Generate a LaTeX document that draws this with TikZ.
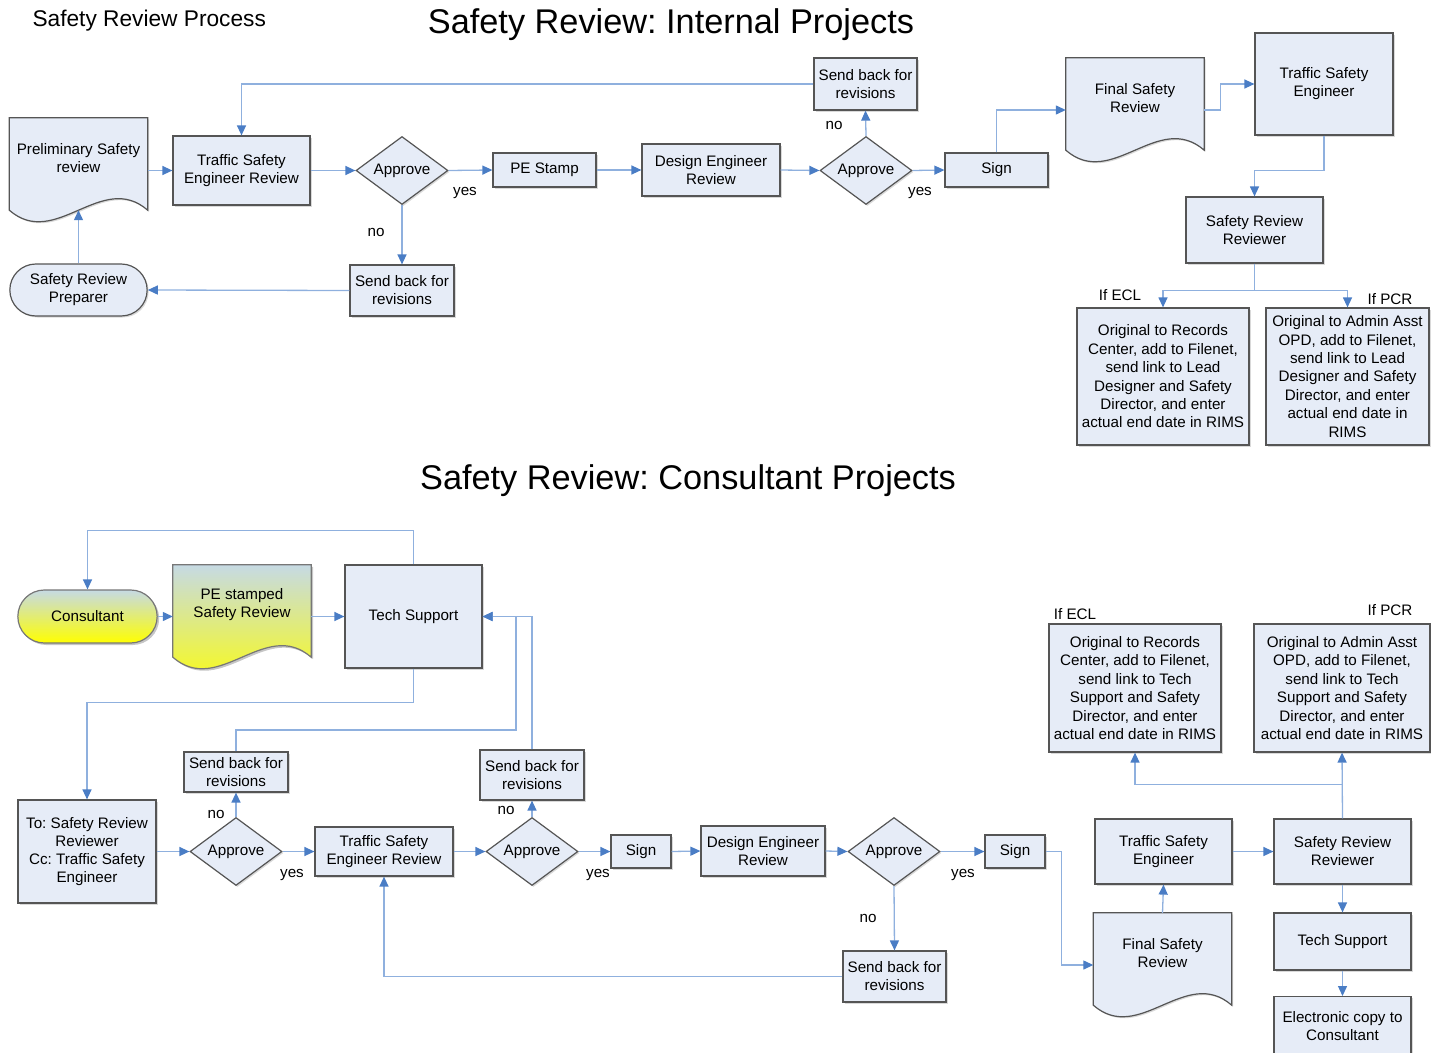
\documentclass[tikz,border=0pt]{standalone}
\usepackage{fontspec}
\setmainfont{Liberation Sans}
\usetikzlibrary{shapes.geometric}
\usetikzlibrary{shapes.misc}
\usetikzlibrary{arrows.meta}
\usetikzlibrary{shadows}
\usetikzlibrary{backgrounds}

\definecolor{boxfill}{HTML}{E6ECF7}
\definecolor{boxline}{HTML}{555555}
\definecolor{flowline}{HTML}{8FB0DE}
\definecolor{flowhead}{HTML}{4A7DC5}
\definecolor{padtop}{HTML}{C6DAE4}
\definecolor{padyellow}{HTML}{FFFF00}

\newcommand{\boxfont}{\fontsize{15.2}{18}\selectfont}
\newcommand{\notefont}{\fontsize{15.2}{18.4}\selectfont}
%document shape behind a docu node
\newcommand{\docshape}[2]{%
    \path[#2] (#1.north west) -- (#1.north east) -- ([yshift=-12pt]#1.south east)
        .. controls +(-46pt,40pt) and +(46pt,-40pt) .. ([yshift=-12pt]#1.south west) -- cycle;}

\tikzset{
    boxshadow/.style={drop shadow={shadow xshift=1.5pt, shadow yshift=-1.5pt, opacity=0.3}},
    box/.style={draw=boxline, fill=boxfill, line width=1.2pt, align=center, font=\boxfont, inner sep=2pt, boxshadow},
    decide/.style={diamond, aspect=1.35, draw=boxline, fill=boxfill, line width=1.2pt, font=\boxfont, inner sep=0pt, minimum width=92pt, minimum height=68pt, boxshadow},
    pill/.style={rounded rectangle, draw=boxline, fill=boxfill, line width=1.2pt, align=center, font=\boxfont, minimum width=144pt, minimum height=52pt, boxshadow},
    docu/.style={align=center, font=\boxfont, minimum width=138pt, minimum height=80pt, inner sep=0pt},
    docfill/.style={draw=boxline, fill=boxfill, line width=1.2pt, boxshadow},
    padfill/.style={draw=boxline!80, top color=padtop, bottom color=padyellow, line width=1.2pt, drop shadow={shadow xshift=2pt, shadow yshift=-2pt, opacity=0.45}},
    lbl/.style={font=\boxfont},
    flow/.style={draw=flowline, line width=1.3pt, -{Triangle[length=10pt,width=9pt,color=flowhead]}},
    title/.style={font=\fontsize{34.3}{40}\selectfont},
}

\begin{document}
\frenchspacing
\begin{tikzpicture}[x=1pt, y=-1pt]
    \useasboundingbox (0,0) rectangle (1431,1052);
    %titles
    \node[anchor=west, font=\fontsize{22.7}{26}\selectfont] (head) at (29,21) {Safety Review Process};
    \node[title] (titleA) at (671,25) {Safety Review: Internal Projects};
    \node[title] (titleB) at (688,481) {Safety Review: Consultant Projects};

    %internal projects, main row
    \node[docu] (prelim) at (78.5,158) {Preliminary Safety\\review};
    \node[box, minimum width=137pt, minimum height=69pt] (tse1) at (241.5,170.5) {Traffic Safety\\Engineer Review};
    \node[decide] (appr1) at (402,170.5) {Approve};
    \node[box, minimum width=103pt, minimum height=34pt] (pe) at (544.5,170) {PE Stamp};
    \node[box, minimum width=138pt, minimum height=52pt] (dsgn) at (711,170) {Design Engineer\\Review};
    \node[decide] (appr2) at (866,170.5) {Approve};
    \node[box, minimum width=103pt, minimum height=34pt] (sign1) at (996.5,170) {Sign};
    \node[box, minimum width=104pt, minimum height=51pt] (sendA) at (402,290.5) {Send back for\\revisions};
    \node[box, minimum width=103pt, minimum height=52pt] (sendB) at (865.5,84) {Send back for\\revisions};
    \node[pill] (prep) at (78.5,290) {Safety Review\\Preparer};
    %internal projects, sign off
    \node[docu] (final) at (1135,98) {Final Safety\\Review};
    \node[box, minimum width=138pt, minimum height=102pt] (tse2) at (1324,84) {Traffic Safety\\Engineer};
    \node[box, minimum width=137pt, minimum height=66pt] (srr) at (1254.5,230) {Safety Review\\Reviewer};
    \node[box, minimum width=172pt, minimum height=137pt, font=\notefont] (ecl1) at (1163,376.5)
        {Original to Records\\Center, add to Filenet,\\send link to Lead\\Designer and Safety\\Director, and enter\\actual end date in RIMS};
    \node[box, minimum width=163pt, minimum height=137pt, font=\notefont] (pcr1) at (1347.5,376.5)
        {Original to Admin Asst\\OPD, add to Filenet,\\send link to Lead\\Designer and Safety\\Director, and enter\\actual end date in\\RIMS};

    %consultant projects, intake
    \node[rounded rectangle, padfill, font=\boxfont, minimum width=146pt, minimum height=53pt] (cons) at (87.5,616.5) {Consultant};
    \node[docu] (pes) at (242,605) {PE stamped\\Safety Review};
    \node[box, minimum width=137pt, minimum height=103pt] (techA) at (413.5,616.5) {Tech Support};
    %consultant projects, main row
    \node[box, minimum width=138pt, minimum height=103pt] (toBox) at (87,851.5) {To: Safety Review\\Reviewer\\Cc: Traffic Safety\\Engineer};
    \node[decide] (appr3) at (236,851.5) {Approve};
    \node[box, minimum width=138pt, minimum height=49pt] (tse3) at (384,851.5) {Traffic Safety\\Engineer Review};
    \node[decide] (appr4) at (532,851.5) {Approve};
    \node[box, minimum width=60pt, minimum height=33pt] (sign2) at (641,851.5) {Sign};
    \node[box, minimum width=124pt, minimum height=50pt] (dsgn2) at (763,851) {Design Engineer\\Review};
    \node[decide] (appr5) at (894,851.5) {Approve};
    \node[box, minimum width=60pt, minimum height=33pt] (sign3) at (1015,851.5) {Sign};
    \node[box, minimum width=104pt, minimum height=40pt] (sendC) at (236,772) {Send back for\\revisions};
    \node[box, minimum width=104pt, minimum height=50pt] (sendD) at (532,775) {Send back for\\revisions};
    \node[box, minimum width=103pt, minimum height=51pt] (sendE) at (894.5,976.5) {Send back for\\revisions};
    %consultant projects, sign off
    \node[docu] (final2) at (1162.5,953) {Final Safety\\Review};
    \node[box, minimum width=137pt, minimum height=65pt] (tse4) at (1163.5,851.5) {Traffic Safety\\Engineer};
    \node[box, minimum width=137pt, minimum height=65pt] (srr2) at (1342.5,851.5) {Safety Review\\Reviewer};
    \node[box, minimum width=137pt, minimum height=57pt] (tech2) at (1342.5,941.5) {Tech Support};
    \node[box, minimum width=137pt, minimum height=70pt, anchor=north] (elec) at (1342.5,996) {\\[-24pt]Electronic copy to\\Consultant};
    \node[box, minimum width=172pt, minimum height=128pt, font=\notefont] (ecl2) at (1135,688)
        {Original to Records\\Center, add to Filenet,\\send link to Tech\\Support and Safety\\Director, and enter\\actual end date in RIMS};
    \node[box, minimum width=176pt, minimum height=128pt, font=\notefont] (pcr2) at (1342,688)
        {Original to Admin Asst\\OPD, add to Filenet,\\send link to Tech\\Support and Safety\\Director, and enter\\actual end date in RIMS};

    %document shapes
    \begin{scope}[on background layer]
        \docshape{prelim}{docfill}
        \docshape{final}{docfill}
        \docshape{final2}{docfill}
        \docshape{pes}{padfill}
    \end{scope}

    %yes / no labels
    \node[lbl] (y1) at (465,193) {yes};
    \node[lbl] (n1) at (376,232) {no};
    \node[lbl] (n2) at (834,125) {no};
    \node[lbl] (y2) at (920,193) {yes};
    \node[lbl] (ifA) at (1120,295) {If ECL};
    \node[lbl] (ifB) at (1390,299) {If PCR};
    \node[lbl] (n3) at (216,814) {no};
    \node[lbl] (y3) at (292,875) {yes};
    \node[lbl] (n4) at (506,810) {no};
    \node[lbl] (y4) at (598,875) {yes};
    \node[lbl] (n5) at (868,918) {no};
    \node[lbl] (y5) at (963,875) {yes};
    \node[lbl] (ifC) at (1075,614) {If ECL};
    \node[lbl] (ifD) at (1390,610) {If PCR};

    %connectors, internal projects
    \draw[flow] (prelim.east |- tse1.west) -- (tse1.west);
    \draw[flow] (tse1.east) -- (appr1.west);
    \draw[flow] (appr1.east) -- (pe.west);
    \draw[flow] (appr1.south) -- (sendA.north);
    \draw[flow] (sendA.west) -- (prep.east);
    \draw[flow] (prep.north) -- ([yshift=-12pt]prelim.south);
    \draw[flow] (pe.east) -- (dsgn.west);
    \draw[flow] (dsgn.east) -- (appr2.west);
    \draw[flow] (appr2.east) -- (sign1.west);
    \draw[flow] (appr2.north) -- (sendB.south);
    \draw[flow] (sendB.west) -| (tse1.north);
    \draw[flow] (sign1.north) |- ([yshift=-12pt]final.west);
    \draw[flow] ([yshift=-12pt]final.east) -- ++(16,0) |- (tse2.west);
    \draw[flow] (tse2.south) -- ++(0,35) -| (srr.north);
    \draw[flow] (srr.south) -- ++(0,27) -| (ecl1.north);
    \draw[flow] (srr.south) -- ++(0,27) -| (pcr1.north);

    %connectors, consultant projects
    \coordinate (bendC) at (516,730);
    \draw[flow] (techA.north) -- ++(0,-34) -| (cons.north);
    \draw[flow] (cons.east) -- (cons.east -| pes.west);
    \draw[flow] (pes.east |- techA.west) -- (techA.west);
    \draw[flow] (techA.south) -- ++(0,34) -| (toBox.north);
    \draw[flow] (toBox.east) -- (appr3.west);
    \draw[flow] (appr3.north) -- (sendC.south);
    \draw[flow] (appr3.east) -- (tse3.west);
    \draw[flow] (sendC.north) |- (bendC) |- (techA.east);
    \draw[flow] (sendD.north) |- (techA.east);
    \draw[flow] (tse3.east) -- (appr4.west);
    \draw[flow] (appr4.north) -- (sendD.south);
    \draw[flow] (appr4.east) -- (sign2.west);
    \draw[flow] (sign2.east) -- (dsgn2.west);
    \draw[flow] (dsgn2.east) -- (appr5.west);
    \draw[flow] (appr5.south) -- (sendE.north);
    \draw[flow] (sendE.west) -| (tse3.south);
    \draw[flow] (appr5.east) -- (sign3.west);
    \draw[flow] (sign3.east) -- ++(16,0) |- ([yshift=-12pt]final2.west);
    \draw[flow] (final2.north) -- (tse4.south);
    \draw[flow] (tse4.east) -- (srr2.west);
    \draw[flow] (srr2.south) -- (tech2.north);
    \draw[flow] (tech2.south) -- (elec.north);
    \draw[flow] (srr2.north) -- ++(0,-34) -| (ecl2.south);
    \draw[flow] (srr2.north) -- (pcr2.south);
\end{tikzpicture}
\end{document}
